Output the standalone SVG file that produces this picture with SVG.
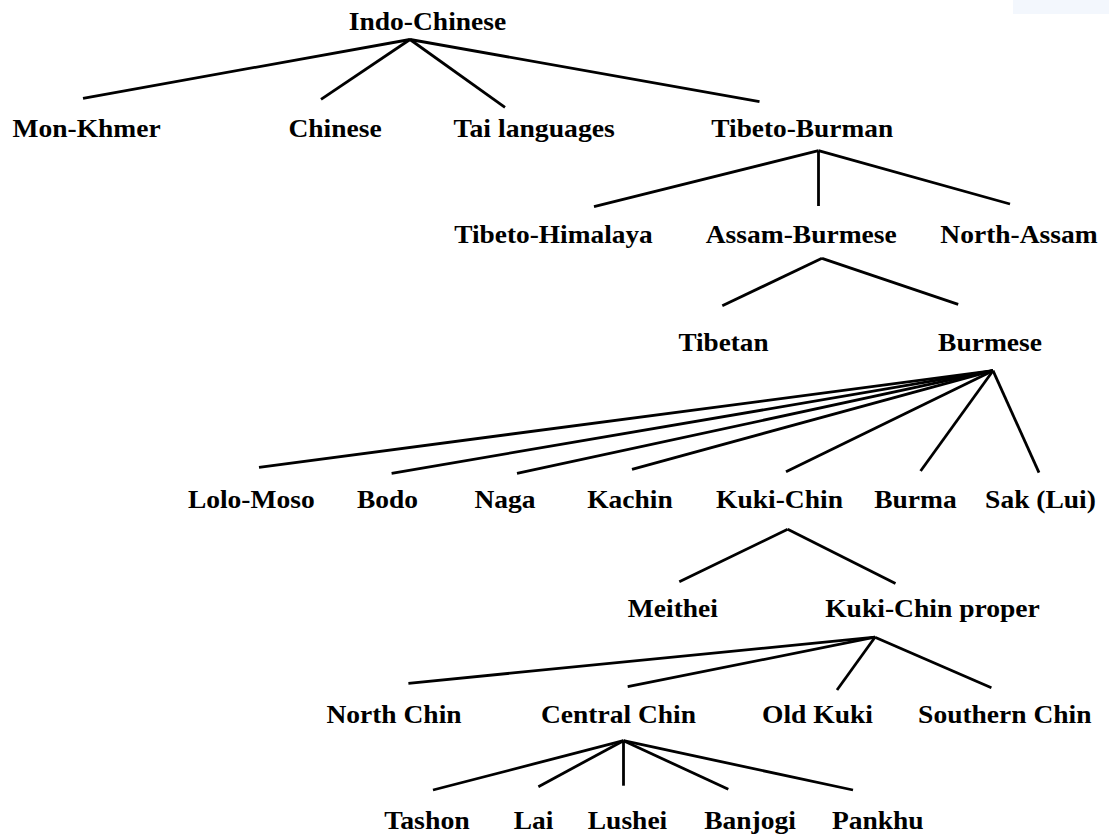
<svg xmlns="http://www.w3.org/2000/svg" width="1109" height="837" viewBox="0 0 1109 837">
<style>
.lbl{font-family:"Liberation Serif","Times New Roman",serif;font-weight:bold;font-size:26px;fill:#000;text-anchor:middle}
.edges line{stroke:#000;stroke-width:2.8;stroke-linecap:butt}
</style>
<rect width="1109" height="837" fill="#fff"/>
<rect x="1013" y="0" width="96" height="14" fill="#f3f7fd"/>
<g class="edges" id="connectors">
<line x1="410" y1="39.5" x2="83" y2="98.3"/>
<line x1="410" y1="39.5" x2="321" y2="99.3"/>
<line x1="410" y1="39.5" x2="505" y2="107.3"/>
<line x1="410" y1="39.5" x2="759.5" y2="101.7"/>
<line x1="818.5" y1="150.7" x2="594" y2="206.7"/>
<line x1="818.5" y1="150.7" x2="818.5" y2="206"/>
<line x1="818.5" y1="150.7" x2="1010" y2="204"/>
<line x1="822" y1="258.3" x2="722.3" y2="305.7"/>
<line x1="822" y1="258.3" x2="958.2" y2="304.3"/>
<line x1="993" y1="370.7" x2="259" y2="467.3"/>
<line x1="993" y1="370.7" x2="391.6" y2="473.3"/>
<line x1="993" y1="370.7" x2="517" y2="473.3"/>
<line x1="993" y1="370.7" x2="632" y2="469.3"/>
<line x1="993" y1="370.7" x2="786" y2="471.7"/>
<line x1="993" y1="370.7" x2="920.6" y2="471"/>
<line x1="993" y1="370.7" x2="1039" y2="472.7"/>
<line x1="787.7" y1="529.3" x2="679.3" y2="581.7"/>
<line x1="787.7" y1="529.3" x2="895.5" y2="583.5"/>
<line x1="875" y1="637.2" x2="408.4" y2="683.3"/>
<line x1="875" y1="637.2" x2="627.7" y2="686.7"/>
<line x1="875" y1="637.2" x2="837" y2="690"/>
<line x1="875" y1="637.2" x2="991.4" y2="687.7"/>
<line x1="623.5" y1="740.7" x2="433" y2="790"/>
<line x1="623.5" y1="740.7" x2="538.4" y2="786.7"/>
<line x1="623.5" y1="740.7" x2="623.5" y2="785.7"/>
<line x1="623.5" y1="740.7" x2="728.3" y2="789.3"/>
<line x1="623.5" y1="740.7" x2="853" y2="790"/>
</g>
<g id="indo-chinese"><text class="lbl" x="427.5" y="30" textLength="157.4" lengthAdjust="spacingAndGlyphs">Indo-Chinese</text></g>
<g id="mon-khmer"><text class="lbl" x="86.6" y="137" textLength="148.2" lengthAdjust="spacingAndGlyphs">Mon-Khmer</text></g>
<g id="chinese"><text class="lbl" x="335" y="137" textLength="93.2" lengthAdjust="spacingAndGlyphs">Chinese</text></g>
<g id="tai-languages"><text class="lbl" x="534.2" y="137" textLength="161.2" lengthAdjust="spacingAndGlyphs">Tai languages</text></g>
<g id="tibeto-burman"><text class="lbl" x="802.2" y="137" textLength="181.8" lengthAdjust="spacingAndGlyphs">Tibeto-Burman</text></g>
<g id="tibeto-himalaya"><text class="lbl" x="553.5" y="242.5" textLength="198.6" lengthAdjust="spacingAndGlyphs">Tibeto-Himalaya</text></g>
<g id="assam-burmese"><text class="lbl" x="801.2" y="242.5" textLength="190.9" lengthAdjust="spacingAndGlyphs">Assam-Burmese</text></g>
<g id="north-assam"><text class="lbl" x="1019" y="242.5" textLength="157.3" lengthAdjust="spacingAndGlyphs">North-Assam</text></g>
<g id="tibetan"><text class="lbl" x="723.5" y="350.5" textLength="90.1" lengthAdjust="spacingAndGlyphs">Tibetan</text></g>
<g id="burmese"><text class="lbl" x="990" y="350.5" textLength="103.9" lengthAdjust="spacingAndGlyphs">Burmese</text></g>
<g id="lolo-moso"><text class="lbl" x="251.3" y="508.3" textLength="126.8" lengthAdjust="spacingAndGlyphs">Lolo-Moso</text></g>
<g id="bodo"><text class="lbl" x="387.5" y="508.3" textLength="61.1" lengthAdjust="spacingAndGlyphs">Bodo</text></g>
<g id="naga"><text class="lbl" x="505" y="508.3" textLength="61.1" lengthAdjust="spacingAndGlyphs">Naga</text></g>
<g id="kachin"><text class="lbl" x="630" y="508.3" textLength="85.6" lengthAdjust="spacingAndGlyphs">Kachin</text></g>
<g id="kuki-chin"><text class="lbl" x="779.5" y="508.3" textLength="126.9" lengthAdjust="spacingAndGlyphs">Kuki-Chin</text></g>
<g id="burma"><text class="lbl" x="915.4" y="508.3" textLength="82.5" lengthAdjust="spacingAndGlyphs">Burma</text></g>
<g id="sak-lui"><text class="lbl" x="1040.5" y="508.3" textLength="110.8" lengthAdjust="spacingAndGlyphs">Sak (Lui)</text></g>
<g id="meithei"><text class="lbl" x="672.9" y="617" textLength="90.1" lengthAdjust="spacingAndGlyphs">Meithei</text></g>
<g id="kuki-chin-proper"><text class="lbl" x="932.5" y="617" textLength="214.7" lengthAdjust="spacingAndGlyphs">Kuki-Chin proper</text></g>
<g id="north-chin"><text class="lbl" x="394" y="722.8" textLength="135.2" lengthAdjust="spacingAndGlyphs">North Chin</text></g>
<g id="central-chin"><text class="lbl" x="618.5" y="722.8" textLength="155.1" lengthAdjust="spacingAndGlyphs">Central Chin</text></g>
<g id="old-kuki"><text class="lbl" x="817.5" y="722.8" textLength="110.8" lengthAdjust="spacingAndGlyphs">Old Kuki</text></g>
<g id="southern-chin"><text class="lbl" x="1004.8" y="722.8" textLength="173.4" lengthAdjust="spacingAndGlyphs">Southern Chin</text></g>
<g id="tashon"><text class="lbl" x="427" y="828.8" textLength="85.6" lengthAdjust="spacingAndGlyphs">Tashon</text></g>
<g id="lai"><text class="lbl" x="533.5" y="828.8" textLength="39.7" lengthAdjust="spacingAndGlyphs">Lai</text></g>
<g id="lushei"><text class="lbl" x="627.5" y="828.8" textLength="79.5" lengthAdjust="spacingAndGlyphs">Lushei</text></g>
<g id="banjogi"><text class="lbl" x="750" y="828.8" textLength="91.7" lengthAdjust="spacingAndGlyphs">Banjogi</text></g>
<g id="pankhu"><text class="lbl" x="877.8" y="828.8" textLength="91.7" lengthAdjust="spacingAndGlyphs">Pankhu</text></g>
</svg>
